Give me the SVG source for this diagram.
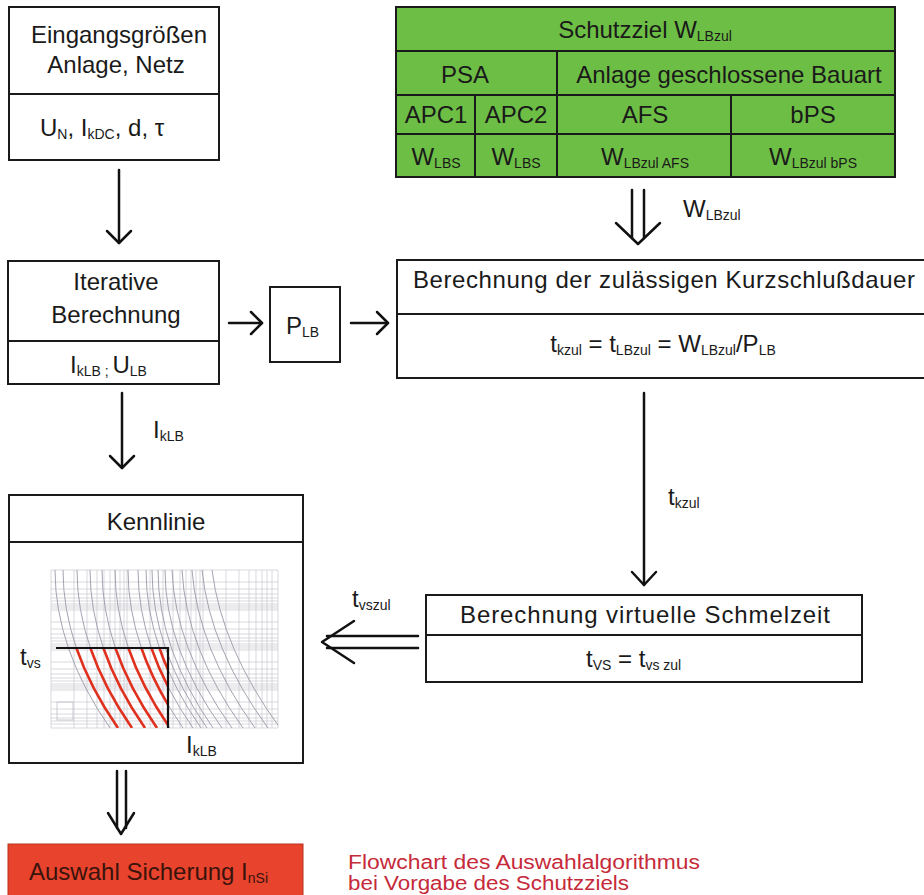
<svg xmlns="http://www.w3.org/2000/svg" width="924" height="895" viewBox="0 0 924 895">
<style>
text{font-family:"Liberation Sans",Arial,sans-serif;fill:#1a1a1a}
.t{font-size:24px}
.m{text-anchor:middle}
.s{font-size:14px}
.box{fill:#fff;stroke:#1a1a1a;stroke-width:2}
.g{fill:#6dbe45;stroke:#1a1a1a;stroke-width:2}
.ln{stroke:#1a1a1a;stroke-width:2;fill:none}
.ar{stroke:#111;stroke-width:2.5;fill:none;stroke-linecap:round;stroke-linejoin:round}
.grid{stroke:#c9c9cf;stroke-width:0.7}
.gc{stroke:#9a98a8;stroke-width:0.9;fill:none}
.rc{stroke:#e0301e;stroke-width:2.6;fill:none}
</style>
<defs>
<clipPath id="chartclip"><rect x="51" y="570" width="227" height="158"/></clipPath>
<clipPath id="redclip"><rect x="56" y="648" width="112" height="80"/></clipPath>
</defs>
<rect width="924" height="895" fill="#fff"/>

<g id="eingang">
<rect class="box" x="9" y="7" width="210" height="153"/>
<line class="ln" x1="9" y1="94" x2="219" y2="94"/>
<text class="t m" x="119" y="43">Eingangsgrößen</text>
<text class="t m" x="116" y="73">Anlage, Netz</text>
<text class="t" x="40" y="136">U<tspan class="s" dy="3">N</tspan><tspan dy="-3">,  I</tspan><tspan class="s" dy="3">kDC</tspan><tspan dy="-3">,  d,  τ</tspan></text>
</g>

<g id="schutzziel">
<rect class="g" x="396" y="7" width="499" height="170"/>
<line class="ln" x1="396" y1="51" x2="895" y2="51"/>
<line class="ln" x1="396" y1="95" x2="895" y2="95"/>
<line class="ln" x1="396" y1="134" x2="895" y2="134"/>
<line class="ln" x1="557" y1="51" x2="557" y2="177"/>
<line class="ln" x1="475" y1="95" x2="475" y2="177"/>
<line class="ln" x1="731" y1="95" x2="731" y2="177"/>
<text class="t m" x="645" y="38">Schutzziel W<tspan class="s" dy="3">LBzul</tspan></text>
<text class="t m" x="465" y="83">PSA</text>
<text class="t m" x="729" y="83">Anlage geschlossene Bauart</text>
<text class="t m" x="436" y="123">APC1</text>
<text class="t m" x="516" y="123">APC2</text>
<text class="t m" x="645" y="123">AFS</text>
<text class="t m" x="813" y="123">bPS</text>
<text class="t m" x="436" y="165">W<tspan class="s" dy="3">LBS</tspan></text>
<text class="t m" x="516" y="165">W<tspan class="s" dy="3">LBS</tspan></text>
<text class="t m" x="645" y="165">W<tspan class="s" dy="3">LBzul AFS</tspan></text>
<text class="t m" x="813" y="165">W<tspan class="s" dy="3">LBzul bPS</tspan></text>
</g>

<g id="iterativ">
<rect class="box" x="8" y="261" width="211" height="123"/>
<line class="ln" x1="8" y1="341" x2="219" y2="341"/>
<text class="t m" x="116" y="290">Iterative</text>
<text class="t m" x="116" y="323">Berechnung</text>
<text class="t" x="70" y="373">I<tspan class="s" dy="3">kLB ; </tspan><tspan dy="-3">U</tspan><tspan class="s" dy="3">LB</tspan></text>
</g>

<g id="plb">
<rect class="box" x="270" y="287" width="70" height="75"/>
<text class="t" x="286" y="334">P<tspan class="s" dy="3">LB</tspan></text>
</g>

<g id="kurzschluss">
<rect class="box" x="397" y="260" width="540" height="118"/>
<line class="ln" x1="397" y1="314" x2="937" y2="314"/>
<text class="t" x="413" y="288" textLength="502" lengthAdjust="spacing">Berechnung der zulässigen Kurzschlußdauer</text>
<text class="t m" x="663" y="352">t<tspan class="s" dy="3">kzul</tspan><tspan dy="-3"> = t</tspan><tspan class="s" dy="3">LBzul</tspan><tspan dy="-3"> = W</tspan><tspan class="s" dy="3">LBzul</tspan><tspan dy="-3">/P</tspan><tspan class="s" dy="3">LB</tspan></text>
</g>

<g id="kennlinie">
<rect class="box" x="9" y="495" width="294" height="268"/>
<line class="ln" x1="9" y1="542" x2="303" y2="542"/>
<text class="t m" x="156" y="530">Kennlinie</text>
<g id="chart">
<rect x="51" y="570" width="227" height="158" fill="#fff"/>
<g class="grid">
<line x1="51" y1="570" x2="51" y2="728"/><line x1="74" y1="570" x2="74" y2="728"/><line x1="87" y1="570" x2="87" y2="728"/><line x1="97" y1="570" x2="97" y2="728"/><line x1="104" y1="570" x2="104" y2="728"/><line x1="110" y1="570" x2="110" y2="728"/><line x1="115" y1="570" x2="115" y2="728"/><line x1="120" y1="570" x2="120" y2="728"/><line x1="124" y1="570" x2="124" y2="728"/>
<line x1="127" y1="570" x2="127" y2="728"/><line x1="150" y1="570" x2="150" y2="728"/><line x1="163" y1="570" x2="163" y2="728"/><line x1="173" y1="570" x2="173" y2="728"/><line x1="180" y1="570" x2="180" y2="728"/><line x1="186" y1="570" x2="186" y2="728"/><line x1="191" y1="570" x2="191" y2="728"/><line x1="196" y1="570" x2="196" y2="728"/><line x1="200" y1="570" x2="200" y2="728"/>
<line x1="203" y1="570" x2="203" y2="728"/><line x1="226" y1="570" x2="226" y2="728"/><line x1="239" y1="570" x2="239" y2="728"/><line x1="249" y1="570" x2="249" y2="728"/><line x1="256" y1="570" x2="256" y2="728"/><line x1="262" y1="570" x2="262" y2="728"/><line x1="267" y1="570" x2="267" y2="728"/><line x1="272" y1="570" x2="272" y2="728"/><line x1="278" y1="570" x2="278" y2="728"/>
<line x1="51" y1="570" x2="278" y2="570"/><line x1="51" y1="582" x2="278" y2="582"/><line x1="51" y1="589" x2="278" y2="589"/><line x1="51" y1="594" x2="278" y2="594"/><line x1="51" y1="598" x2="278" y2="598"/><line x1="51" y1="601" x2="278" y2="601"/><line x1="51" y1="604" x2="278" y2="604"/><line x1="51" y1="606" x2="278" y2="606"/><line x1="51" y1="608" x2="278" y2="608"/>
<line x1="51" y1="610" x2="278" y2="610"/><line x1="51" y1="622" x2="278" y2="622"/><line x1="51" y1="629" x2="278" y2="629"/><line x1="51" y1="634" x2="278" y2="634"/><line x1="51" y1="638" x2="278" y2="638"/><line x1="51" y1="641" x2="278" y2="641"/><line x1="51" y1="644" x2="278" y2="644"/><line x1="51" y1="646" x2="278" y2="646"/><line x1="51" y1="648" x2="278" y2="648"/>
<line x1="51" y1="650" x2="278" y2="650"/><line x1="51" y1="662" x2="278" y2="662"/><line x1="51" y1="669" x2="278" y2="669"/><line x1="51" y1="674" x2="278" y2="674"/><line x1="51" y1="678" x2="278" y2="678"/><line x1="51" y1="681" x2="278" y2="681"/><line x1="51" y1="684" x2="278" y2="684"/><line x1="51" y1="686" x2="278" y2="686"/><line x1="51" y1="688" x2="278" y2="688"/>
<line x1="51" y1="690" x2="278" y2="690"/><line x1="51" y1="702" x2="278" y2="702"/><line x1="51" y1="709" x2="278" y2="709"/><line x1="51" y1="714" x2="278" y2="714"/><line x1="51" y1="718" x2="278" y2="718"/><line x1="51" y1="721" x2="278" y2="721"/><line x1="51" y1="724" x2="278" y2="724"/><line x1="51" y1="728" x2="278" y2="728"/>
</g>
<g class="gc" clip-path="url(#chartclip)">
<path d="M55,570 Q55,649 110,728"/><path d="M63,570 Q63,649 118,728"/><path d="M77,570 Q77,649 132,728"/><path d="M90,570 Q90,649 145,728"/><path d="M102,570 Q102,649 157,728"/><path d="M115,570 Q115,649 170,728"/><path d="M128,570 Q128,649 183,728"/><path d="M138,570 Q138,649 193,728"/><path d="M146,570 Q146,649 201,728"/><path d="M152,570 Q152,649 207,728"/><path d="M158,570 Q158,649 213,728"/><path d="M165,570 Q165,649 222,728"/><path d="M172,570 Q175,649 232,728"/><path d="M182,570 Q186,649 243,728"/><path d="M192,570 Q198,649 255,728"/><path d="M202,570 Q210,649 268,728"/><path d="M212,570 Q222,649 280,728"/>
</g>
<g class="rc" clip-path="url(#redclip)">
<path d="M76.4,648 Q90.2,688 118,728"/><path d="M90.4,648 Q104.2,688 132,728"/><path d="M103.4,648 Q117.2,688 145,728"/><path d="M115.4,648 Q129.2,688 157,728"/><path d="M128.4,648 Q142.2,688 170,728"/><path d="M141.4,648 Q155.2,688 183,728"/><path d="M151.4,648 Q165.2,688 193,728"/><path d="M159.4,648 Q173.2,688 201,728"/>
</g>
<rect x="57" y="702" width="16" height="18" fill="none" stroke="#b8b8c0" stroke-width="0.7"/>
<polyline points="56,648 168,648 168,728" fill="none" stroke="#111" stroke-width="2.2"/>
</g>
<text class="t" x="20" y="665">t<tspan class="s" dy="3">vs</tspan></text>
<text class="t" x="186" y="753">I<tspan class="s" dy="3">kLB</tspan></text>
</g>

<g id="schmelzzeit">
<rect class="box" x="426" y="595" width="436" height="87"/>
<line class="ln" x1="426" y1="635" x2="862" y2="635"/>
<text class="t m" x="645" y="623" textLength="370" lengthAdjust="spacing">Berechnung virtuelle Schmelzeit</text>
<text class="t" x="586" y="667">t<tspan class="s" dy="3">VS</tspan><tspan dy="-3"> =  t</tspan><tspan class="s" dy="3">vs zul</tspan></text>
</g>

<g id="auswahl">
<rect x="8" y="844" width="295" height="60" fill="#e8432d" stroke="#b8321f" stroke-width="1"/>
<text class="t" x="29" y="880" style="fill:#3a140c">Auswahl Sicherung I<tspan class="s" dy="3" style="fill:#3a140c">nSi</tspan></text>
</g>

<g id="connectors">
<line class="ar" x1="119" y1="170" x2="119" y2="243"/><polyline class="ar" points="107,231 119,243 131,231"/>
<line class="ar" x1="229" y1="323" x2="262" y2="323"/><polyline class="ar" points="251,312 262,323 251,334"/>
<line class="ar" x1="351" y1="323" x2="388" y2="323"/><polyline class="ar" points="377,312 388,323 377,334"/>
<line class="ar" x1="632" y1="190" x2="632" y2="238"/><line class="ar" x1="644" y1="190" x2="644" y2="238"/><polyline class="ar" points="616,223 638,244 660,223"/>
<line class="ar" x1="122" y1="393" x2="122" y2="468"/><polyline class="ar" points="110,456 122,468 134,456"/>
<line class="ar" x1="644" y1="393" x2="644" y2="585"/><polyline class="ar" points="632,572 644,585 656,572"/>
<line class="ar" x1="327" y1="636" x2="418" y2="636"/><line class="ar" x1="327" y1="648" x2="418" y2="648"/><polyline class="ar" points="354,621 322,642 354,663"/>
<line class="ar" x1="117" y1="771" x2="117" y2="828"/><line class="ar" x1="126" y1="771" x2="126" y2="828"/><polyline class="ar" points="108,813 121,834 134,813"/>
</g>

<g id="labels">
<text class="t" x="683" y="217">W<tspan class="s" dy="3">LBzul</tspan></text>
<text class="t" x="153" y="438">I<tspan class="s" dy="3">kLB</tspan></text>
<text class="t" x="668" y="505">t<tspan class="s" dy="3">kzul</tspan></text>
<text class="t" x="352" y="607">t<tspan class="s" dy="3">vszul</tspan></text>
</g>

<g id="caption">
<text x="348" y="869" font-size="20" textLength="352" lengthAdjust="spacingAndGlyphs" style="fill:#c62a3a">Flowchart des Auswahlalgorithmus</text>
<text x="348" y="890" font-size="20" textLength="281" lengthAdjust="spacingAndGlyphs" style="fill:#c62a3a">bei Vorgabe des Schutzziels</text>
</g>
</svg>
